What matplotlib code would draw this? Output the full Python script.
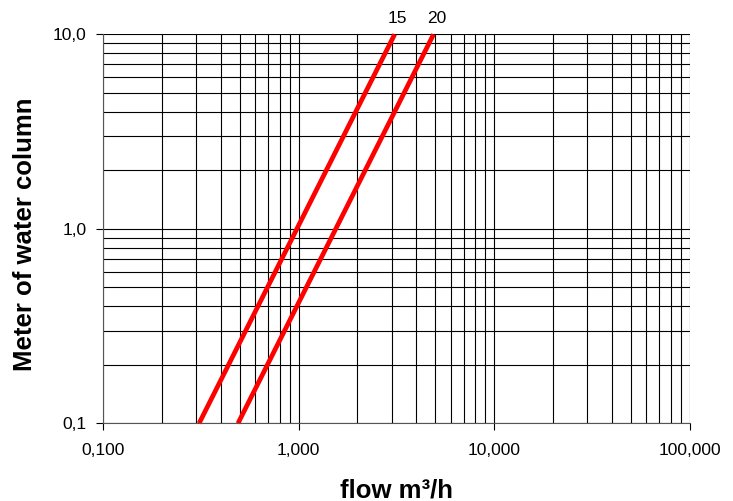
import numpy as np
import matplotlib.pyplot as plt
from matplotlib.ticker import FixedLocator, FixedFormatter, NullFormatter

plt.rcParams['font.family'] = ['Liberation Sans', 'DejaVu Sans']

# Valve curves: flow at 10 m water column (kv-like)
labels = ["15", "20"]
flow_at_10m = [3.1, 4.9]
head = [0.1, 10.0]

x_ticks = [0.1, 1, 10, 100]
x_labels = ["0,100", "1,000", "10,000", "100,000"]
y_ticks = [0.1, 1, 10]
y_labels = ["0,1", "1,0", "10,0"]

fig = plt.figure(figsize=(7.33, 5.01), dpi=100)
ax = fig.add_axes([0.1405, 0.155, 0.8005, 0.7765])
ax.set_xscale('log')
ax.set_yscale('log')
ax.set_xlim(0.1, 100)
ax.set_ylim(0.1, 10)

ax.xaxis.set_major_locator(FixedLocator(x_ticks))
ax.xaxis.set_major_formatter(FixedFormatter(x_labels))
ax.yaxis.set_major_locator(FixedLocator(y_ticks))
ax.yaxis.set_major_formatter(FixedFormatter(y_labels))
minors = [m * 10.0 ** e for e in range(-1, 2) for m in range(2, 10)]
ax.xaxis.set_minor_locator(FixedLocator(minors))
ax.yaxis.set_minor_locator(FixedLocator([m for m in minors if m < 10]))
ax.xaxis.set_minor_formatter(NullFormatter())
ax.yaxis.set_minor_formatter(NullFormatter())

ax.grid(True, which='both', color='black', linewidth=0.8)
ax.tick_params(which='minor', length=0)
ax.tick_params(which='major', length=5, width=0.8, labelsize=12.5)
ax.tick_params(axis='x', pad=9)
ax.tick_params(axis='y', pad=7)
for s in ['top', 'right']:
    ax.spines[s].set_visible(False)
for s in ['left', 'bottom']:
    ax.spines[s].set_color('#555555')

for lab, kv in zip(labels, flow_at_10m):
    q = [kv * np.sqrt(h / 10.0) for h in head]
    ax.plot(q, head, color='#ff0000', linewidth=3.4, solid_capstyle='butt', clip_on=False)
    ax.annotate(lab, (q[-1], head[-1]), xytext=(2, 6), textcoords='offset points',
                ha='center', va='bottom', fontsize=12.5)

ax.set_xlabel("flow m³/h", fontsize=18.5, fontweight='bold', va='center')
ax.xaxis.set_label_coords(0.5, -0.172)
ax.set_ylabel("Meter of water column", fontsize=18.5, fontweight='bold', va='center')
ax.yaxis.set_label_coords(-0.133, 0.486)

fig.savefig("out.png", dpi=100)
